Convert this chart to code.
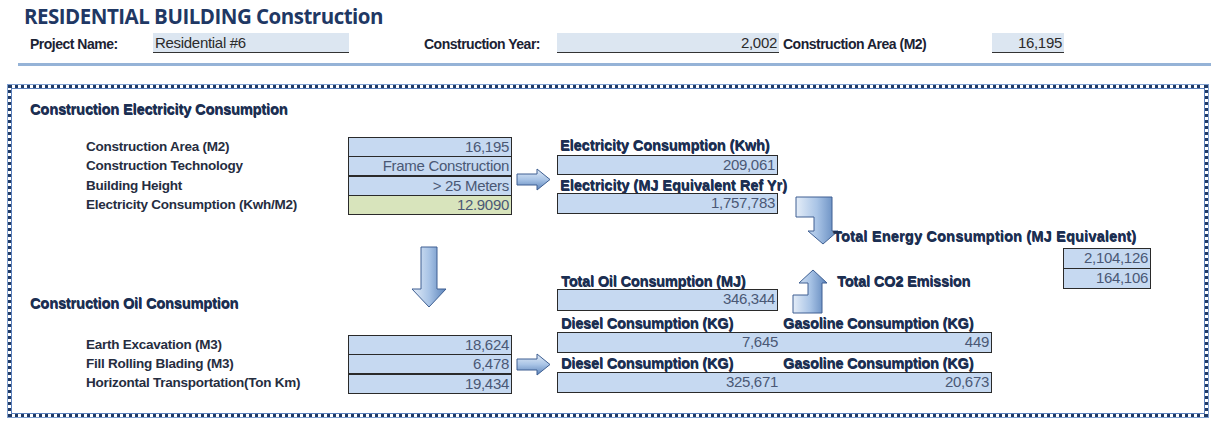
<!DOCTYPE html>
<html lang="en">
<head>
<meta charset="UTF-8">
<title>Residential Building Construction</title>
<script src="https://cdn.jsdelivr.net/npm/chart.js"></script>
<style>
  body { margin: 0; width: 1211px; height: 421px; background: #fff; position: relative; overflow: hidden;
         font-family: "Liberation Sans", Arial, sans-serif; }
  .t { position: absolute; white-space: nowrap; line-height: 20px; height: 20px; }
  .title { font: 700 20.5px "Open Sans", sans-serif; letter-spacing: -0.5px; color: #1f3864; line-height: 24px; height: 24px; }
  .hl { font-weight: bold; font-size: 14px; letter-spacing: -0.5px; color: #1b2233; }
  .sec { font-weight: bold; font-size: 14.5px; letter-spacing: -0.1px; color: #1c2f52; text-shadow: 0.5px 0.5px 0 #1c2f52; }
  .lbl { font-weight: bold; font-size: 13.5px; letter-spacing: -0.25px; color: #262d3f; }
  .rl { font-weight: bold; font-size: 14.5px; letter-spacing: -0.15px; color: #1c2f52; text-shadow: 0.5px 0.5px 0 #1c2f52; }
  .field { position: absolute; background: #dce6f1; border-bottom: 1.5px solid #333; box-sizing: border-box;
           font-size: 15px; color: #2b2b2b; line-height: 19px; padding: 0 2px; letter-spacing: -0.3px; white-space: nowrap; }
  .cell { position: absolute; background: #c6d9f1; border: 1px solid #2a2a2a; box-sizing: border-box;
          font-size: 15px; color: #4a5875; line-height: 18px; padding: 0 2px; letter-spacing: -0.3px; white-space: nowrap; }
  .cell span { position: absolute; }
  .frame { position: absolute; box-sizing: border-box; border: 3px dotted #1f3a66;
           box-shadow: inset 0 0 0 1px #5b80bd, 0 0 0 1px #7f9fcf; }
  svg { position: absolute; left: 0; top: 0; }
</style>
</head>
<body>
<svg id="arrows" width="1211" height="421">
  <defs>
    <linearGradient id="gv" x1="0" y1="0" x2="0" y2="1">
      <stop offset="0" stop-color="#e4edf8"/>
      <stop offset="0.5" stop-color="#a9c4e6"/>
      <stop offset="1" stop-color="#5b83ba"/>
    </linearGradient>
    <linearGradient id="gh" x1="0" y1="0" x2="1" y2="0">
      <stop offset="0" stop-color="#e4edf8"/>
      <stop offset="0.5" stop-color="#a9c4e6"/>
      <stop offset="1" stop-color="#5b83ba"/>
    </linearGradient>
  </defs>
</svg>
<script>
  // header values
  const projectName = 'Residential #6';
  const constructionYear = 2002;
  const constructionArea = 16195;

  // construction electricity consumption
  const elecLabels = ['Construction Area (M2)', 'Construction Technology', 'Building Height', 'Electricity Consumption (Kwh/M2)'];
  const elecInputs = ['16,195', 'Frame Construction', '> 25 Meters', '12.9090'];
  const elecOutLabels = ['Electricity Consumption (Kwh)', 'Electricity  (MJ Equivalent Ref Yr)'];
  const elecOutValues = [209061, 1757783];

  // totals
  const totalLabels = ['Total Energy Consumption (MJ Equivalent)', 'Total CO2 Emission'];
  const totalValues = [2104126, 164106];

  // construction oil consumption
  const oilLabels = ['Earth Excavation (M3)', 'Fill Rolling Blading (M3)', 'Horizontal Transportation(Ton Km)'];
  const oilInputs = [18624, 6478, 19434];
  const oilTotalLabel = 'Total Oil Consumption (MJ)';
  const oilTotal = 346344;
  const fuelLabels = ['Diesel Consumption (KG)', 'Gasoline Consumption (KG)'];
  const dieselValues = [7645, 325671];
  const gasolineValues = [449, 20673];

  const fmt = n => typeof n === 'number' ? n.toLocaleString('en-US') : n;

  function text(cls, s, x, cy, css) {
    const d = document.createElement('div');
    d.className = 't ' + cls;
    d.textContent = s;
    d.style.left = x + 'px';
    d.style.top = (cy - (cls === 'title' ? 12 : 10)) + 'px';
    if (css) Object.assign(d.style, css);
    document.body.appendChild(d);
    return d;
  }

  function box(cls, x, y, w, h, s, align, bg) {
    const d = document.createElement('div');
    d.className = cls;
    Object.assign(d.style, { left: x + 'px', top: y + 'px', width: w + 'px', height: h + 'px', textAlign: align || 'right' });
    if (bg) d.style.background = bg;
    if (s !== undefined) d.textContent = fmt(s);
    document.body.appendChild(d);
    return d;
  }

  function arrow(pts, x, y, grad) {
    const svg = document.getElementById('arrows');
    const p = document.createElementNS('http://www.w3.org/2000/svg', 'polygon');
    p.setAttribute('points', pts.map(q => (q[0] + x) + ',' + (q[1] + y)).join(' '));
    p.setAttribute('fill', 'url(#' + grad + ')');
    p.setAttribute('stroke', '#3e5f92');
    p.setAttribute('stroke-width', '1');
    svg.appendChild(p);
  }

  // title + header row
  text('title', 'RESIDENTIAL BUILDING Construction', 24, 16);
  text('hl', 'Project Name:', 30, 44);
  box('field', 153, 33, 196, 20, projectName, 'left');
  text('hl', 'Construction Year:', 424, 44);
  box('field', 557, 33, 222, 20, constructionYear, 'right');
  text('hl', 'Construction Area (M2)', 783, 44);
  box('field', 992, 33, 72, 20, constructionArea, 'right');
  const rule = document.createElement('div');
  Object.assign(rule.style, { position: 'absolute', left: '18px', top: '63px', width: '1193px', height: '3px', background: '#95b3d7' });
  document.body.appendChild(rule);

  box('frame', 8, 85, 1200, 332);

  // electricity section
  text('sec', 'Construction Electricity Consumption', 30, 109);
  elecLabels.forEach((s, i) => text('lbl', s, 86, 147 + i * 19.3));
  elecInputs.forEach((s, i) => box('cell', 348, 137 + Math.round(i * 19.3), 164, 20, s, 'right', i === 3 ? '#d8e4bc' : null));
  text('rl', elecOutLabels[0], 560, 145, { letterSpacing: '-0.05px' });
  box('cell', 557, 155, 221, 20, elecOutValues[0]);
  text('rl', elecOutLabels[1], 560, 185, { letterSpacing: '0px' });
  box('cell', 557, 193, 221, 21, elecOutValues[1]);

  // totals
  text('rl', totalLabels[0], 833, 236, { letterSpacing: '0.2px' });
  box('cell', 1063, 248, 88, 21, totalValues[0]);
  box('cell', 1063, 268, 88, 21, totalValues[1]);
  text('rl', totalLabels[1], 837, 281);

  // oil section
  text('sec', 'Construction Oil Consumption', 30, 303);
  oilLabels.forEach((s, i) => text('lbl', s, 86, 345 + i * 19));
  oilInputs.forEach((v, i) => box('cell', 348, 335 + Math.round(i * 19.3), 164, 20, v));
  text('rl', oilTotalLabel, 561, 281);
  box('cell', 557, 289, 221, 22, oilTotal);
  [332, 372].forEach((y, i) => {
    text('rl', fuelLabels[0], 561, y - 9);
    text('rl', fuelLabels[1], 783, y - 9);
    const b = box('cell', 557, y, 435, 21);
    const a = document.createElement('span'); a.textContent = fmt(dieselValues[i]); a.style.right = '213px';
    const g = document.createElement('span'); g.textContent = fmt(gasolineValues[i]); g.style.right = '2px';
    b.appendChild(a); b.appendChild(g);
  });

  // arrows
  const rightArrow = [[0,5],[20,5],[20,0],[33,10.5],[20,21],[20,16],[0,16]];
  arrow(rightArrow, 517, 169, 'gv');
  arrow(rightArrow, 517, 354, 'gv');
  arrow([[9,0],[25,0],[25,42],[34,42],[17,60],[0,42],[9,42]], 412, 247, 'gh');
  arrow([[0,0],[36,0],[36,34],[42,34],[27,47],[12,34],[18,34],[18,20],[0,20]], 796, 197, 'gh');
  arrow([[20,0],[34,13],[29,13],[29,43],[0,43],[0,25],[15,25],[15,13],[6,13]], 793, 270, 'gh');
</script>
</body>
</html>
